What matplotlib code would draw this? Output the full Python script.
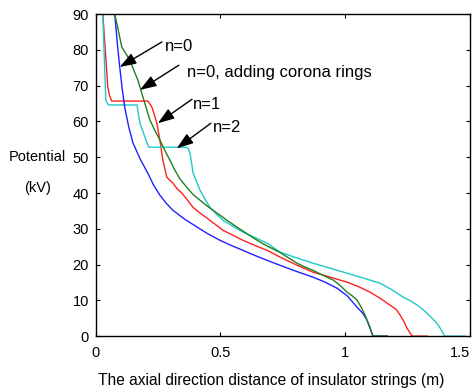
import matplotlib.pyplot as plt

plt.rcParams['font.family'] = ['Liberation Sans', 'DejaVu Sans']

# n=0
x_blue = [0.0, 0.076, 0.086, 0.096, 0.106, 0.116, 0.132, 0.149, 0.178, 0.209, 0.232, 0.257,
          0.283, 0.309, 0.356, 0.406, 0.452, 0.498, 0.545, 0.59, 0.64, 0.687, 0.739, 0.805,
          0.871, 0.92, 0.968, 1.01, 1.048, 1.07, 1.088, 1.112, 1.17]
y_blue = [90, 90, 82, 75.2, 69, 64, 58.5, 54, 49.5, 45.5, 42.2, 39.4,
          37.1, 35.2, 32.7, 30.5, 28.5, 26.8, 25.3, 24, 22.5, 21.2, 19.8, 18.1,
          16.5, 15.1, 13.4, 11.2, 8.1, 6.5, 4.5, 0, 0]

# n=0, adding corona rings
x_green = [0.0, 0.076, 0.09, 0.104, 0.12, 0.137, 0.153, 0.169, 0.189, 0.217, 0.237, 0.257,
           0.277, 0.297, 0.317, 0.337, 0.365, 0.39, 0.418, 0.45, 0.486, 0.526, 0.566, 0.607,
           0.647, 0.69, 0.739, 0.775, 0.807, 0.84, 0.871, 0.912, 0.952, 0.98, 1.008, 1.03,
           1.048, 1.065, 1.08, 1.1, 1.112, 1.17]
y_green = [90, 90, 85.5, 80.8, 79.0, 77.1, 74.2, 71.5, 66.8, 60.4, 57.5, 54.8,
           51.9, 49.2, 46.4, 44.0, 41.6, 39.6, 38, 36.2, 34.4, 32.4, 30.5, 28.6,
           26.8, 25.1, 23.4, 21.8, 20.4, 19.3, 18.4, 17.0, 15.7, 14.2, 12.3, 11.2,
           10.1, 8.1, 5.9, 2.5, 0, 0]

# n=1
x_red = [0.0, 0.028, 0.038, 0.048, 0.056, 0.064, 0.209, 0.225, 0.235, 0.245, 0.257, 0.269,
         0.285, 0.297, 0.309, 0.325, 0.345, 0.368, 0.39, 0.418, 0.446, 0.478, 0.51, 0.55,
         0.59, 0.64, 0.687, 0.739, 0.805, 0.871, 0.94, 1.008, 1.055, 1.1, 1.141, 1.18,
         1.205, 1.221, 1.237, 1.249, 1.269, 1.33]
y_red = [90, 90, 80, 69.6, 67, 65.7, 65.7, 64, 61.8, 59.5, 54.8, 49.2,
         44.4, 43.6, 42.8, 41.3, 40, 38, 36, 34.4, 33, 31.3, 29.6, 28.2,
         26.8, 25.3, 24, 22.1, 19.9, 17.9, 16.5, 15.1, 13.8, 12.3, 10.6, 8.7,
         7.5, 5.9, 4.0, 2.2, 0, 0]

# n=2
x_cyan = [0.0, 0.028, 0.034, 0.040, 0.050, 0.056, 0.165, 0.177, 0.187, 0.197, 0.205, 0.213,
          0.365, 0.372, 0.378, 0.384, 0.39, 0.404, 0.418, 0.438, 0.458, 0.484, 0.51, 0.55,
          0.59, 0.64, 0.687, 0.739, 0.805, 0.871, 0.94, 1.008, 1.075, 1.141, 1.19, 1.233,
          1.26, 1.289, 1.31, 1.329, 1.35, 1.369, 1.385, 1.4, 1.48]
y_cyan = [90, 90, 78, 66, 64.6, 64.6, 64.6, 59.5, 57.6, 55.6, 54.1, 52.8,
          52.8, 52.3, 51.1, 48.5, 45.6, 43.2, 40.8, 38.3, 36, 34.1, 32.4, 30.7,
          29.1, 27.5, 26, 23.5, 21.9, 20.4, 19.0, 17.6, 16.2, 14.8, 12.9, 10.9,
          10.0, 8.7, 7.6, 6.4, 5.0, 3.6, 1.9, 0, 0]

xticks = [0, 0.5, 1, 1.5]
yticks = [0, 10, 20, 30, 40, 50, 60, 70, 80, 90]

fig = plt.figure(figsize=(4.72, 3.9), dpi=100)
ax = fig.add_axes([0.203, 0.138, 0.792, 0.826])

ax.plot(x_red, y_red, color='#ff2020', lw=1)
ax.plot(x_cyan, y_cyan, color='#20c8c8', lw=1)
ax.plot(x_blue, y_blue, color='#2020ff', lw=1)
ax.plot(x_green, y_green, color='#208020', lw=1)

ax.set_xlim(0, 1.5)
ax.set_ylim(0, 90)
ax.set_xticks(xticks)
ax.set_xticklabels(['0', '0.5', '1', '1.5'])
ax.set_yticks(yticks)
ax.tick_params(direction='in', top=True, right=True, labelsize=10.5, length=3)
ax.tick_params(axis='x', pad=7)
ax.tick_params(axis='y', pad=5)
ax.get_xticklabels()[-1].set_horizontalalignment('right')
ax.get_xticklabels()[-1].set_x(1.505)
for s in ax.spines.values():
    s.set_linewidth(1)

ax.set_xlabel('The axial direction distance of insulator strings (m)', fontsize=11.2)
ax.xaxis.set_label_coords(0.468, -0.115)
fig.text(0.079, 0.598, 'Potential', fontsize=10.5, ha='center', va='center')
fig.text(0.079, 0.517, '(kV)', fontsize=10.5, ha='center', va='center')

arrow = dict(arrowstyle='-|>,head_length=1.0,head_width=0.35', color='black', lw=1,
             shrinkA=0, shrinkB=0)
ax.annotate('', xy=(0.096, 75.2), xytext=(0.265, 82.2), arrowprops=arrow)
ax.annotate('', xy=(0.177, 68.8), xytext=(0.333, 75.7), arrowprops=arrow)
ax.annotate('', xy=(0.249, 59.5), xytext=(0.386, 66.2), arrowprops=arrow)
ax.annotate('', xy=(0.325, 52.5), xytext=(0.462, 59.5), arrowprops=arrow)
ax.text(0.277, 80.8, 'n=0', fontsize=12, va='center', ha='left')
ax.text(0.365, 73.8, 'n=0, adding corona rings', fontsize=12, va='center', ha='left')
ax.text(0.39, 64.8, 'n=1', fontsize=12, va='center', ha='left')
ax.text(0.47, 58.4, 'n=2', fontsize=12, va='center', ha='left')

fig.savefig('out.png', dpi=100)
